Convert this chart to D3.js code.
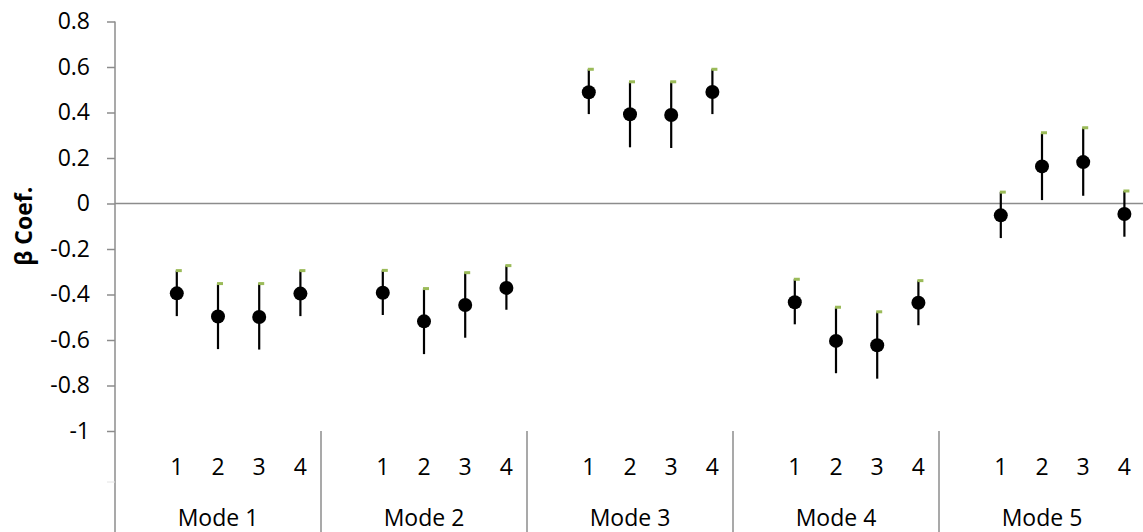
<!DOCTYPE html>
<html>
<head>
<meta charset="utf-8">
<script src="https://cdn.jsdelivr.net/npm/d3@7"></script>
<style>
  html, body { margin: 0; padding: 0; background: #fff; }
  svg { display: block; font-family: "Open Sans", "Liberation Sans", sans-serif; }
</style>
</head>
<body>
<svg id="chart" width="1143" height="532"></svg>
<script>
// ---- data ----
const modes = ["Mode 1", "Mode 2", "Mode 3", "Mode 4", "Mode 5"];
const subLabels = ["", "1", "2", "3", "4"];
const yTicks = [0.8, 0.6, 0.4, 0.2, 0, -0.2, -0.4, -0.6, -0.8, -1];
const yTitle = "β Coef.";

// coefficient per mode (subgroups 1..4)
const coefMode1 = [-0.395, -0.497, -0.499, -0.396];
const coefMode2 = [-0.392, -0.518, -0.446, -0.371];
const coefMode3 = [0.489, 0.392, 0.389, 0.490];
const coefMode4 = [-0.434, -0.604, -0.623, -0.436];
const coefMode5 = [-0.052, 0.163, 0.182, -0.046];

// upper bound of error bar
const upperMode1 = [-0.295, -0.352, -0.352, -0.295];
const upperMode2 = [-0.294, -0.374, -0.304, -0.273];
const upperMode3 = [0.590, 0.535, 0.535, 0.590];
const upperMode4 = [-0.333, -0.456, -0.476, -0.339];
const upperMode5 = [0.050, 0.311, 0.333, 0.055];

// lower bound of error bar
const lowerMode1 = [-0.495, -0.640, -0.642, -0.495];
const lowerMode2 = [-0.490, -0.662, -0.590, -0.467];
const lowerMode3 = [0.393, 0.247, 0.244, 0.393];
const lowerMode4 = [-0.531, -0.746, -0.770, -0.535];
const lowerMode5 = [-0.152, 0.015, 0.034, -0.146];

const coefs = [coefMode1, coefMode2, coefMode3, coefMode4, coefMode5];
const uppers = [upperMode1, upperMode2, upperMode3, upperMode4, upperMode5];
const lowers = [lowerMode1, lowerMode2, lowerMode3, lowerMode4, lowerMode5];

(function () {
// ---- build ----
const points = [];
modes.forEach((m, mi) => {
  coefs[mi].forEach((v, si) => {
    points.push({ key: m + "|" + subLabels[si + 1], v, hi: uppers[mi][si], lo: lowers[mi][si] });
  });
});
const allKeys = [];
modes.forEach(m => subLabels.forEach(s => allKeys.push(m + "|" + s)));

const svg = d3.select("#chart");
const pLeft = 115, pRight = 1145, pTop = 21.5, pBottom = 431;
const fs = 23;

const x = d3.scaleBand().domain(allKeys).range([pLeft, pRight]).padding(0);
const xMode = d3.scaleBand().domain(modes).range([pLeft, pRight]).padding(0);
const y = d3.scaleLinear().domain([-1, 0.8]).range([pBottom, pTop]);

const axisColor = "#8c8c8c";

// y axis
const yAxis = d3.axisLeft(y).tickValues(yTicks).tickSize(8).tickPadding(17)
  .tickFormat(d => d === 0 ? "0" : String(+d.toFixed(1)));
const gy = svg.append("g").attr("transform", `translate(${pLeft},0)`).call(yAxis);
gy.select(".domain").remove();
gy.selectAll(".tick line").attr("stroke", axisColor).attr("stroke-width", 1.5);
gy.selectAll(".tick text").attr("font-size", fs).attr("fill", "#000").attr("font-family", "Open Sans, sans-serif");

// y axis line (extends to bottom for category area)
svg.append("line").attr("x1", pLeft).attr("x2", pLeft).attr("y1", pTop).attr("y2", 532)
  .attr("stroke", axisColor).attr("stroke-width", 1.5);

// zero line
svg.append("line").attr("x1", pLeft).attr("x2", pRight).attr("y1", y(0)).attr("y2", y(0))
  .attr("stroke", axisColor).attr("stroke-width", 1.5);

// faint category-level divider tick
svg.append("line").attr("x1", pLeft - 8).attr("x2", pLeft).attr("y1", 482).attr("y2", 482)
  .attr("stroke", "#e4e4e4").attr("stroke-width", 1);

// mode separators
modes.forEach((m, i) => {
  if (i === 0) return;
  const xs = xMode(m);
  svg.append("line").attr("x1", xs).attr("x2", xs).attr("y1", pBottom).attr("y2", 532)
    .attr("stroke", axisColor).attr("stroke-width", 1.5);
});

// sub labels
const subG = svg.append("g");
allKeys.forEach(k => {
  const lab = k.split("|")[1];
  if (!lab) return;
  subG.append("text").attr("x", x(k) + x.bandwidth() / 2).attr("y", 466)
    .attr("text-anchor", "middle").attr("dominant-baseline", "central")
    .attr("font-size", fs).attr("fill", "#000").text(lab);
});

// mode labels
modes.forEach(m => {
  svg.append("text").attr("x", xMode(m) + xMode.bandwidth() / 2).attr("y", 517)
    .attr("text-anchor", "middle").attr("dominant-baseline", "central")
    .attr("font-size", fs).attr("fill", "#000").text(m);
});

// y title
svg.append("text").attr("transform", `translate(23,${(pTop + pBottom) / 2}) rotate(-90)`)
  .attr("text-anchor", "middle").attr("dominant-baseline", "central")
  .attr("font-size", 23).attr("font-weight", "bold").attr("fill", "#000").text(yTitle);

// error bars
const cx = d => x(d.key) + x.bandwidth() / 2;
svg.append("g").selectAll("line").data(points).join("line")
  .attr("x1", cx).attr("x2", cx)
  .attr("y1", d => y(d.hi)).attr("y2", d => y(d.lo))
  .attr("stroke", "#000").attr("stroke-width", 2.2);

// green caps
svg.append("g").selectAll("rect").data(points).join("rect")
  .attr("x", d => cx(d) - 1).attr("y", d => y(d.hi) - 1.5)
  .attr("width", 6).attr("height", 3)
  .attr("fill", "#9bbb59");

// markers
svg.append("g").selectAll("circle").data(points).join("circle")
  .attr("cx", cx).attr("cy", d => y(d.v)).attr("r", 7)
  .attr("fill", "#000");
})();
</script>
</body>
</html>
